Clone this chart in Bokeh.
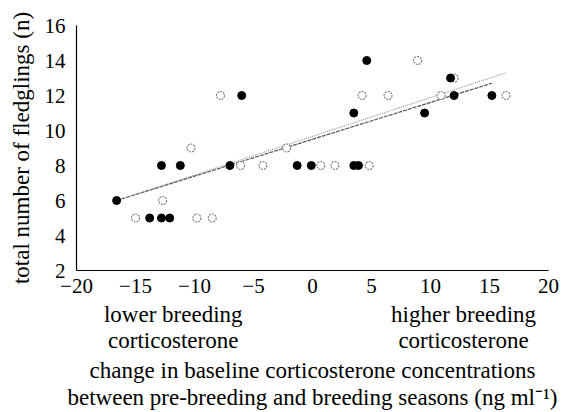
from bokeh.plotting import figure
from bokeh.models import Range1d, FixedTicker, LinearAxis
from bokeh.embed import file_html
from bokeh.resources import INLINE

# ---- data ----
filled_x = [-16.6, -13.8, -12.8, -12.1, -12.8, -11.2, -7.0, -6.0, -1.3, -0.1, 3.5, 3.9, 3.5, 4.6, 9.5, 11.7, 12.0, 15.2]
filled_y = [6, 5, 5, 5, 8, 8, 8, 12, 8, 8, 8, 8, 11, 14, 11, 13, 12, 12]
open_x = [-15.0, -12.7, -9.8, -8.5, -10.3, -7.8, -6.1, -4.2, -2.2, 0.7, 1.9, 4.8, 4.2, 6.4, 8.9, 10.9, 12.0, 16.4]
open_y = [5, 6, 5, 5, 9, 12, 8, 8, 9, 8, 8, 8, 12, 12, 14, 12, 13, 12]
fit_filled_x = [-16.6, 15.2]
fit_filled_y = [6.0, 12.7]
fit_open_x = [-15.2, 16.4]
fit_open_y = [6.3, 13.3]
x_ticks = [-20, -15, -10, -5, 0, 5, 10, 15, 20]
x_tick_labels = ["\u221220", "\u221215", "\u221210", "\u22125", "0", "5", "10", "15", "20"]
y_ticks = [2, 4, 6, 8, 10, 12, 14, 16]
end_note_x = [-11.8, 12.8]
end_note_row1 = ["lower breeding", "higher breeding"]
end_note_row2 = ["corticosterone", "corticosterone"]
x_label_line1 = "change in baseline corticosterone concentrations"
x_label_line2 = "between pre-breeding and breeding seasons (ng ml\u207b\u00b9)"
y_label = "total number of fledglings (n)"

FONT = "Liberation Serif"
W, H = 565, 412

p = figure(width=W, height=H, output_backend="svg", toolbar_location=None,
           x_range=Range1d(-20, 20), y_range=Range1d(2, 16),
           min_border_left=76, min_border_right=17, min_border_top=25, min_border_bottom=139)
p.outline_line_color = None
p.xgrid.visible = False
p.ygrid.visible = False
p.background_fill_color = "white"
p.border_fill_color = "white"


def plain(ax, size="21px", line=True):
    ax.major_tick_out = 0
    ax.major_tick_in = 0
    ax.minor_tick_out = 0
    ax.minor_tick_in = 0
    ax.axis_line_color = "black" if line else None
    ax.axis_line_width = 1.2
    ax.major_label_text_font = FONT
    ax.major_label_text_font_size = size
    ax.major_label_text_color = "black"
    ax.axis_label_text_font = FONT
    ax.axis_label_text_font_style = "normal"
    ax.axis_label_text_font_size = "23px"
    ax.axis_label_text_color = "black"


plain(p.xaxis[0])
plain(p.yaxis[0])
p.xaxis.ticker = FixedTicker(ticks=x_ticks)
p.xaxis.major_label_overrides = {t: s for t, s in zip(x_ticks, x_tick_labels)}
p.xaxis.major_label_standoff = 8
p.yaxis.ticker = FixedTicker(ticks=y_ticks)
p.yaxis.major_label_standoff = 11
p.yaxis.axis_label = y_label
p.yaxis.axis_label_standoff = 8

# rows of text under the x axis, carried by label-only axes
row1 = LinearAxis(ticker=FixedTicker(ticks=end_note_x),
                  major_label_overrides={t: s for t, s in zip(end_note_x, end_note_row1)})
plain(row1, "23px", line=False)
row1.major_label_standoff = 6
p.add_layout(row1, "below")

row2 = LinearAxis(ticker=FixedTicker(ticks=end_note_x),
                  major_label_overrides={t: s for t, s in zip(end_note_x, end_note_row2)})
plain(row2, "23px", line=False)
row2.major_label_standoff = -2
p.add_layout(row2, "below")

lab1 = LinearAxis(ticker=FixedTicker(ticks=[]), axis_label=x_label_line1)
plain(lab1, "23px", line=False)
lab1.major_label_standoff = 0
lab1.axis_label_standoff = 2
p.add_layout(lab1, "below")

lab2 = LinearAxis(ticker=FixedTicker(ticks=[]), axis_label=x_label_line2)
plain(lab2, "23px", line=False)
lab2.major_label_standoff = 0
lab2.axis_label_standoff = -1
p.add_layout(lab2, "below")

p.line(fit_filled_x, fit_filled_y, line_color="#555555", line_width=1.2, line_dash="4 1")
p.line(fit_open_x, fit_open_y, line_color="#9a9a9a", line_width=1.2, line_dash="1 1")

p.scatter(open_x, open_y, marker="circle", size=8, fill_color="white",
          line_color="#777777", line_width=1.1, line_dash="2 1")
p.scatter(filled_x, filled_y, marker="circle", size=8, fill_color="black", line_color="black")

open("out.html", "w").write(file_html(p, INLINE))
